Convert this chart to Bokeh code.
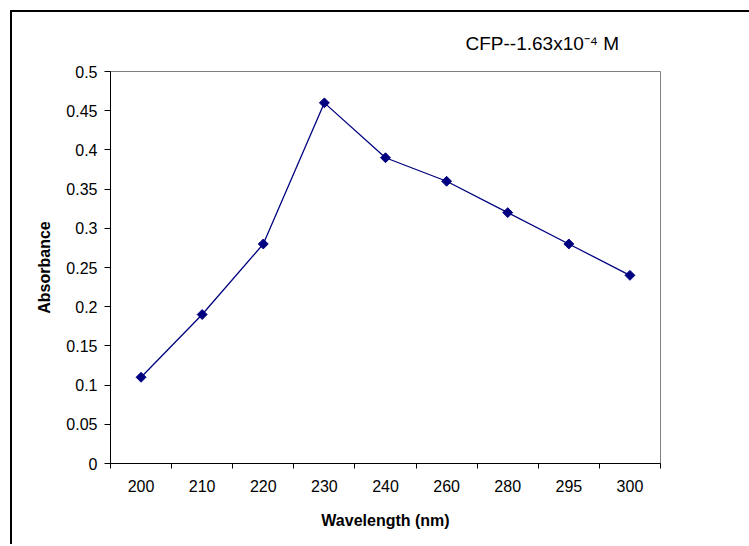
import numpy as np
from bokeh.plotting import figure
from bokeh.models import FixedTicker, ColumnDataSource
from bokeh.embed import file_html
from bokeh.resources import INLINE

# ---- data ----
wavelengths = ["200", "210", "220", "230", "240", "260", "280", "295", "300"]
absorbance = [0.11, 0.19, 0.28, 0.46, 0.39, 0.36, 0.32, 0.28, 0.24]
y_ticks = [round(i * 0.05, 2) for i in range(11)]
y_tick_labels = ["0", "0.05", "0.1", "0.15", "0.2", "0.25", "0.3", "0.35", "0.4", "0.45", "0.5"]
title_text = "CFP--1.63x10\u207b\u2074 M"

n = len(wavelengths)
xpos = np.arange(n) + 0.5
src = ColumnDataSource(dict(x=xpos, y=absorbance, label=wavelengths))

FONT = "Liberation Sans"

p = figure(
    width=737, height=532,
    x_range=(0, n), y_range=(0, 0.5),
    output_backend="svg", toolbar_location=None,
    min_border_left=98, min_border_right=89, min_border_top=59, min_border_bottom=81,
)
p.frame_width = 550
p.frame_height = 392
p.margin = (10, 0, 0, 10)
p.styles = {"border-top": "2px solid black", "border-left": "2px solid black"}

p.title.text = title_text
p.title.align = "left"
p.title.offset = 355
p.title.standoff = 36
p.title.text_font = FONT
p.title.text_font_size = "19px"
p.title.text_font_style = "normal"
p.title.text_color = "black"

p.grid.visible = False
p.outline_line_color = "#808080"
p.outline_line_width = 1
p.background_fill_color = "white"
p.border_fill_color = "white"

# x axis: labels at category centres, tick marks at boundaries
xa = p.xaxis[0]
xa.ticker = FixedTicker(ticks=list(xpos), minor_ticks=list(range(n + 1)))
xa.major_label_overrides = {float(x): lab for x, lab in zip(xpos, wavelengths)}
xa.major_tick_out = 0
xa.major_tick_in = 0
xa.minor_tick_out = 5
xa.minor_tick_in = 0
xa.minor_tick_line_color = "black"
xa.axis_line_color = "black"
xa.major_label_standoff = 11
xa.major_label_text_font = FONT
xa.major_label_text_font_size = "16px"
xa.major_label_text_color = "black"
xa.axis_label = "Wavelength (nm)"
xa.axis_label_text_font = FONT
xa.axis_label_text_font_size = "16px"
xa.axis_label_text_font_style = "bold"
xa.axis_label_text_color = "black"
xa.axis_label_standoff = 17

ya = p.yaxis[0]
ya.ticker = FixedTicker(ticks=y_ticks, minor_ticks=[])
ya.major_label_overrides = {t: s for t, s in zip(y_ticks, y_tick_labels)}
ya.major_tick_out = 6
ya.major_tick_in = 0
ya.axis_line_color = "black"
ya.major_label_standoff = 7
ya.major_label_text_font = FONT
ya.major_label_text_font_size = "16px"
ya.major_label_text_color = "black"
ya.axis_label = "Absorbance"
ya.axis_label_text_font = FONT
ya.axis_label_text_font_size = "16px"
ya.axis_label_text_font_style = "bold"
ya.axis_label_text_color = "black"
ya.axis_label_standoff = 10

p.line("x", "y", source=src, line_color="#000080", line_width=1.3)
p.scatter("x", "y", source=src, marker="square", angle=np.pi / 4, size=7,
          fill_color="#000080", line_color="#000080")

open("out.html", "w").write(file_html(p, INLINE))
